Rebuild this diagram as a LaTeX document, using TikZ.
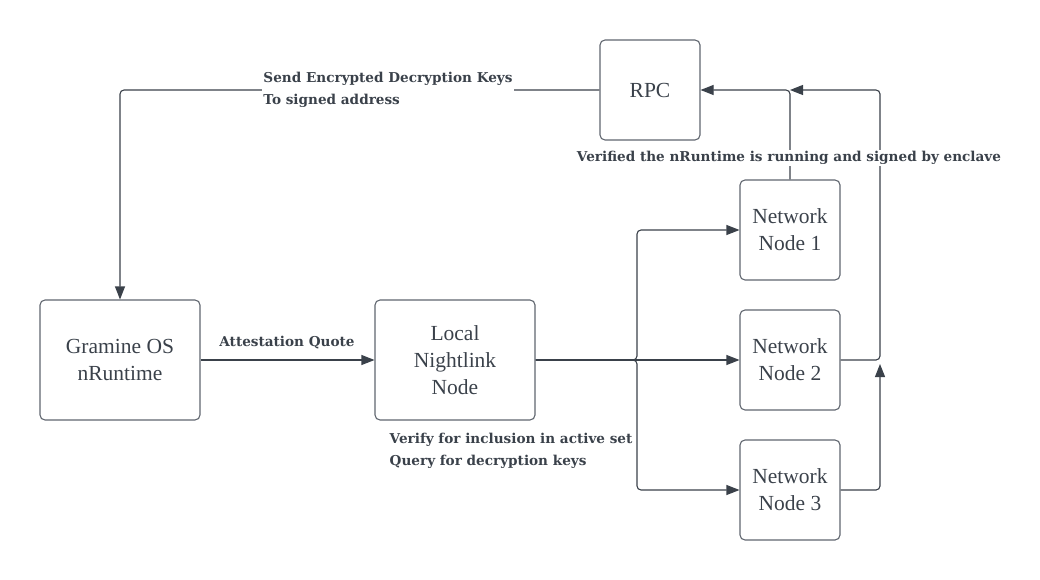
\documentclass[tikz,border=0pt]{standalone}
\usepackage{fontspec}
\newfontfamily\labfont{DejaVu Serif}
\newfontfamily\boxfont{Liberation Serif}
\usetikzlibrary{arrows.meta}
\definecolor{ink}{HTML}{3A414A}
\definecolor{boxline}{HTML}{60666F}
\begin{document}
\begin{tikzpicture}[x=1pt,y=-1pt,
  box/.style={draw=boxline, line width=1.1pt, rounded corners=5pt, align=center, text=ink, inner sep=0pt,
    font=\boxfont\fontsize{21.5}{27}\selectfont},
  bigbox/.style={box, minimum width=160pt, minimum height=120pt},
  smallbox/.style={box, minimum width=100pt, minimum height=100pt},
  conn/.style={draw=ink, line width=1.1pt, rounded corners=4pt},
  arr/.style={-{Triangle[length=13pt,width=10pt]}},
  lab/.style={font=\labfont\bfseries\fontsize{13.6}{22}\selectfont, text=ink, align=left, inner sep=1.5pt}
]
\useasboundingbox (0,0) rectangle (1040,580);
\node[smallbox] (rpc) at (650,90) {RPC};
\node[bigbox] (gram) at (120,360) {Gramine OS\\nRuntime};
\node[bigbox] (local) at (455,360) {Local\\Nightlink\\Node};
\node[smallbox] (n1) at (790,230) {Network\\Node 1};
\node[smallbox] (n2) at (790,360) {Network\\Node 2};
\node[smallbox] (n3) at (790,490) {Network\\Node 3};
\coordinate (split) at (637,360);
\coordinate (rtop) at (880,90);
\coordinate (jtip) at (790,90);
\coordinate (up3) at (880,364);
\draw[conn,arr] (rpc.west) -| (gram.north);
\draw[conn,arr] (gram.east) -- (local.west);
\draw[conn,arr] (local.east) -- (split) |- (n1.west);
\draw[conn,arr] (local.east) -- (n2.west);
\draw[conn,arr] (local.east) -- (split) |- (n3.west);
\draw[conn,arr] (n1.north) |- (rpc.east);
\draw[conn,arr] (n2.east) -| (rtop) -- (jtip);
\draw[conn,arr] (n3.east) -| (up3);
\node[lab, fill=white] (sendlab) at (388,90) {Send Encrypted Decryption Keys\\To signed address};
\node[lab, fill=white] (verlab) at (789,158) {Verified the nRuntime is running and signed by enclave};
\node[lab] (attlab) at (287,343) {Attestation Quote};
\node[lab, anchor=west] (qlab) at (388,451) {Verify for inclusion in active set\\Query for decryption keys};
\end{tikzpicture}
\end{document}
